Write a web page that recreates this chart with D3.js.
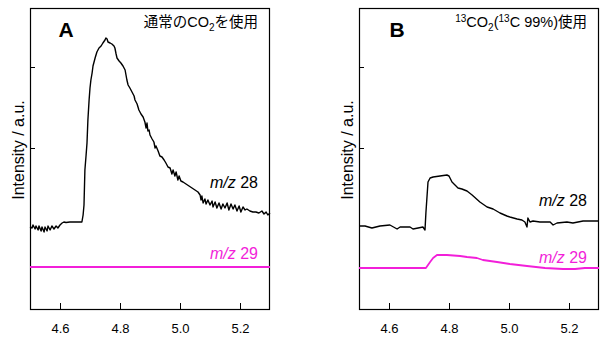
<!DOCTYPE html>
<html>
<head>
<meta charset="utf-8">
<script src="https://cdn.jsdelivr.net/npm/d3@7"></script>
<style>
  html, body { margin: 0; padding: 0; background: #fff; }
  svg { display: block; font-family: "Liberation Sans", Arial, "Noto Sans CJK JP", sans-serif; }
</style>
</head>
<body>
<svg id="chart" width="607" height="337"></svg>
<script>
// Retention time (min) and intensity (a.u.) for each trace
const xTicks = [4.6, 4.8, 5.0, 5.2];
const yTicks = [162, 243];

// Panel A: ordinary CO2
const timeA28 = [4.500,4.507,4.510,4.517,4.520,4.527,4.530,4.537,4.540,4.547,4.550,4.557,4.560,4.567,4.573,4.580,4.587,4.593,4.600,4.607,4.613,4.620,4.633,4.650,4.673,4.677,4.680,4.683,4.687,4.690,4.693,4.697,4.700,4.703,4.707,4.710,4.717,4.723,4.730,4.737,4.743,4.750,4.753,4.757,4.760,4.767,4.773,4.780,4.783,4.787,4.790,4.797,4.803,4.810,4.817,4.820,4.823,4.827,4.833,4.840,4.847,4.850,4.857,4.863,4.870,4.877,4.883,4.887,4.890,4.893,4.897,4.900,4.907,4.913,4.917,4.920,4.927,4.933,4.940,4.947,4.953,4.960,4.967,4.973,4.977,4.983,4.987,4.993,4.997,5.003,5.010,5.020,5.030,5.040,5.050,5.060,5.067,5.070,5.073,5.077,5.083,5.087,5.093,5.100,5.107,5.110,5.117,5.123,5.130,5.137,5.143,5.150,5.157,5.163,5.170,5.177,5.183,5.190,5.197,5.203,5.210,5.217,5.223,5.233,5.243,5.253,5.263,5.273,5.280,5.287,5.293,5.300];
const intA28 = [83,82,85,81,84,80,84,79,83,78,83,79,84,80,84,81,84,82,85,87,88,87.5,88,88,88,95,105,140,155,167,190,210,222,230,237,244,252,258,262,264,267,270,272,271,268,267,266,264,262,256,252,249,247,244,240,235,230,225,222,218,214,210,206,200,196,193,188,182,187,179,180,175,171,168,162,164,159,154,153,150,147,143,142,136,140,134,138,130,134,129,128,126,124,122,120,118,115,110,114,107,111,106,110,105,109,103,108,102,107,101,106,102,107,100,106,101,105,99,104,98,103,100,101,99,98,98,97,99,96,98,95,97];
const timeA29 = [4.500, 4.700, 4.900, 5.100, 5.300];
const intA29 = [43, 43, 43, 43, 43];

// Panel B: 13CO2 (13C 99%)
const timeB28 = [4.500,4.520,4.543,4.570,4.603,4.627,4.637,4.670,4.680,4.697,4.713,4.720,4.723,4.730,4.737,4.747,4.770,4.793,4.800,4.810,4.820,4.830,4.843,4.860,4.877,4.903,4.927,4.947,4.970,4.993,5.003,5.027,5.043,5.053,5.060,5.063,5.070,5.080,5.103,5.137,5.147,5.160,5.193,5.213,5.247,5.300];
const intB28 = [84,84,82,84,85,81,83,83,81,82,83,80,97,128,132,133,134,135,134,128,125,122,121,119,115,108,103,101,97,94,93,91,90,88,83,92,88,89,88,88,85,87,88,87,89,89];
const timeB29 = [4.500,4.723,4.737,4.747,4.760,4.793,4.837,4.860,4.893,4.913,4.960,5.003,5.060,5.120,5.180,5.220,5.253,5.300];
const intB29 = [42,42,48,52,55,55,54,53,52,50,48,46,44,42,41,41,42,42];

const BLACK = "#000";
const MAGENTA = "#f21fd9";

const svg = d3.select("#chart");

function panel(cfg) {
  const x = d3.scaleLinear().domain([4.5, 5.3]).range([cfg.left, cfg.right]);
  const y = d3.scaleLinear().domain([0, 302]).range([310, 8]);
  const g = svg.append("g");

  // bottom axis with inward ticks
  const xAxis = d3.axisBottom(x).tickValues(xTicks).tickFormat(d3.format(".1f"))
    .tickSizeInner(-7).tickSizeOuter(0).tickPadding(14);
  const gx = g.append("g").attr("transform", `translate(0,310)`).call(xAxis);
  gx.select(".domain").remove();
  gx.selectAll("line").attr("stroke", "#000");
  gx.selectAll("text").attr("font-size", 13).attr("fill", "#000").attr("dy", "0.71em");

  // left axis with inward ticks, no labels
  const yAxis = d3.axisLeft(y).tickValues(yTicks).tickFormat("").tickSizeInner(-5).tickSizeOuter(0);
  const gy = g.append("g").attr("transform", `translate(${cfg.left},0)`).call(yAxis);
  gy.select(".domain").remove();
  gy.selectAll("line").attr("stroke", "#000");

  // frame
  g.append("rect")
    .attr("x", cfg.left + 0.5).attr("y", 8.5)
    .attr("width", cfg.right - cfg.left - 1).attr("height", 301)
    .attr("fill", "none").attr("stroke", "#000").attr("stroke-width", 1.2);

  const line = d3.line().x(d => x(d[0])).y(d => y(d[1]));
  const traces = [
    { t: cfg.t28, v: cfg.v28, color: BLACK, w: 1.4 },
    { t: cfg.t29, v: cfg.v29, color: MAGENTA, w: 1.8 }
  ];
  traces.forEach(tr => {
    g.append("path")
      .datum(d3.zip(tr.t, tr.v))
      .attr("d", line)
      .attr("fill", "none")
      .attr("stroke", tr.color)
      .attr("stroke-width", tr.w)
      .attr("stroke-linejoin", "round");
  });

  // panel letter
  g.append("text").attr("x", cfg.letterX).attr("y", 37)
    .attr("font-size", 21).attr("font-weight", "bold").attr("text-anchor", "middle")
    .text(cfg.letter);

  // title
  const title = g.append("text").attr("x", cfg.right - 12).attr("y", 27)
    .attr("font-size", 14.5).attr("text-anchor", "end").attr("fill", "#000");
  cfg.title.forEach(p => {
    const ts = title.append("tspan").text(p.s);
    if (p.sub) ts.attr("font-size", 10).attr("dy", 4);
    if (p.sup) ts.attr("font-size", 10).attr("dy", -5);
    if (p.reset) ts.attr("dy", p.reset);
    if (p.cjk) ts.attr("font-family", "'Noto Sans CJK JP', sans-serif");
  });

  // series labels
  [[cfg.lab28Y, "28", BLACK], [cfg.lab29Y, "29", MAGENTA]].forEach(([yy, n, c]) => {
    const t = g.append("text").attr("x", cfg.right - 12).attr("y", yy)
      .attr("font-size", 16).attr("text-anchor", "end").attr("fill", c);
    t.append("tspan").attr("font-style", "italic").text("m/z");
    t.append("tspan").text(" " + n);
  });

  // y-axis title
  g.append("text")
    .attr("transform", `translate(${cfg.left - 6},150) rotate(-90)`)
    .attr("font-size", 16).attr("text-anchor", "middle").attr("fill", "#000")
    .text("Intensity / a.u.");
}

panel({
  left: 30, right: 270, letter: "A", letterX: 66,
  t28: timeA28, v28: intA28, t29: timeA29, v29: intA29,
  lab28Y: 188, lab29Y: 259,
  title: [
    { s: "通常の", cjk: true },
    { s: "CO" },
    { s: "2", sub: true },
    { s: "を使用", cjk: true, reset: -4 }
  ]
});

panel({
  left: 359, right: 599, letter: "B", letterX: 397,
  t28: timeB28, v28: intB28, t29: timeB29, v29: intB29,
  lab28Y: 206, lab29Y: 263,
  title: [
    { s: "13", sup: true },
    { s: "CO", reset: 5 },
    { s: "2", sub: true },
    { s: "(", reset: -4 },
    { s: "13", sup: true },
    { s: "C 99%)", reset: 5 },
    { s: "使用", cjk: true }
  ]
});
</script>
</body>
</html>
